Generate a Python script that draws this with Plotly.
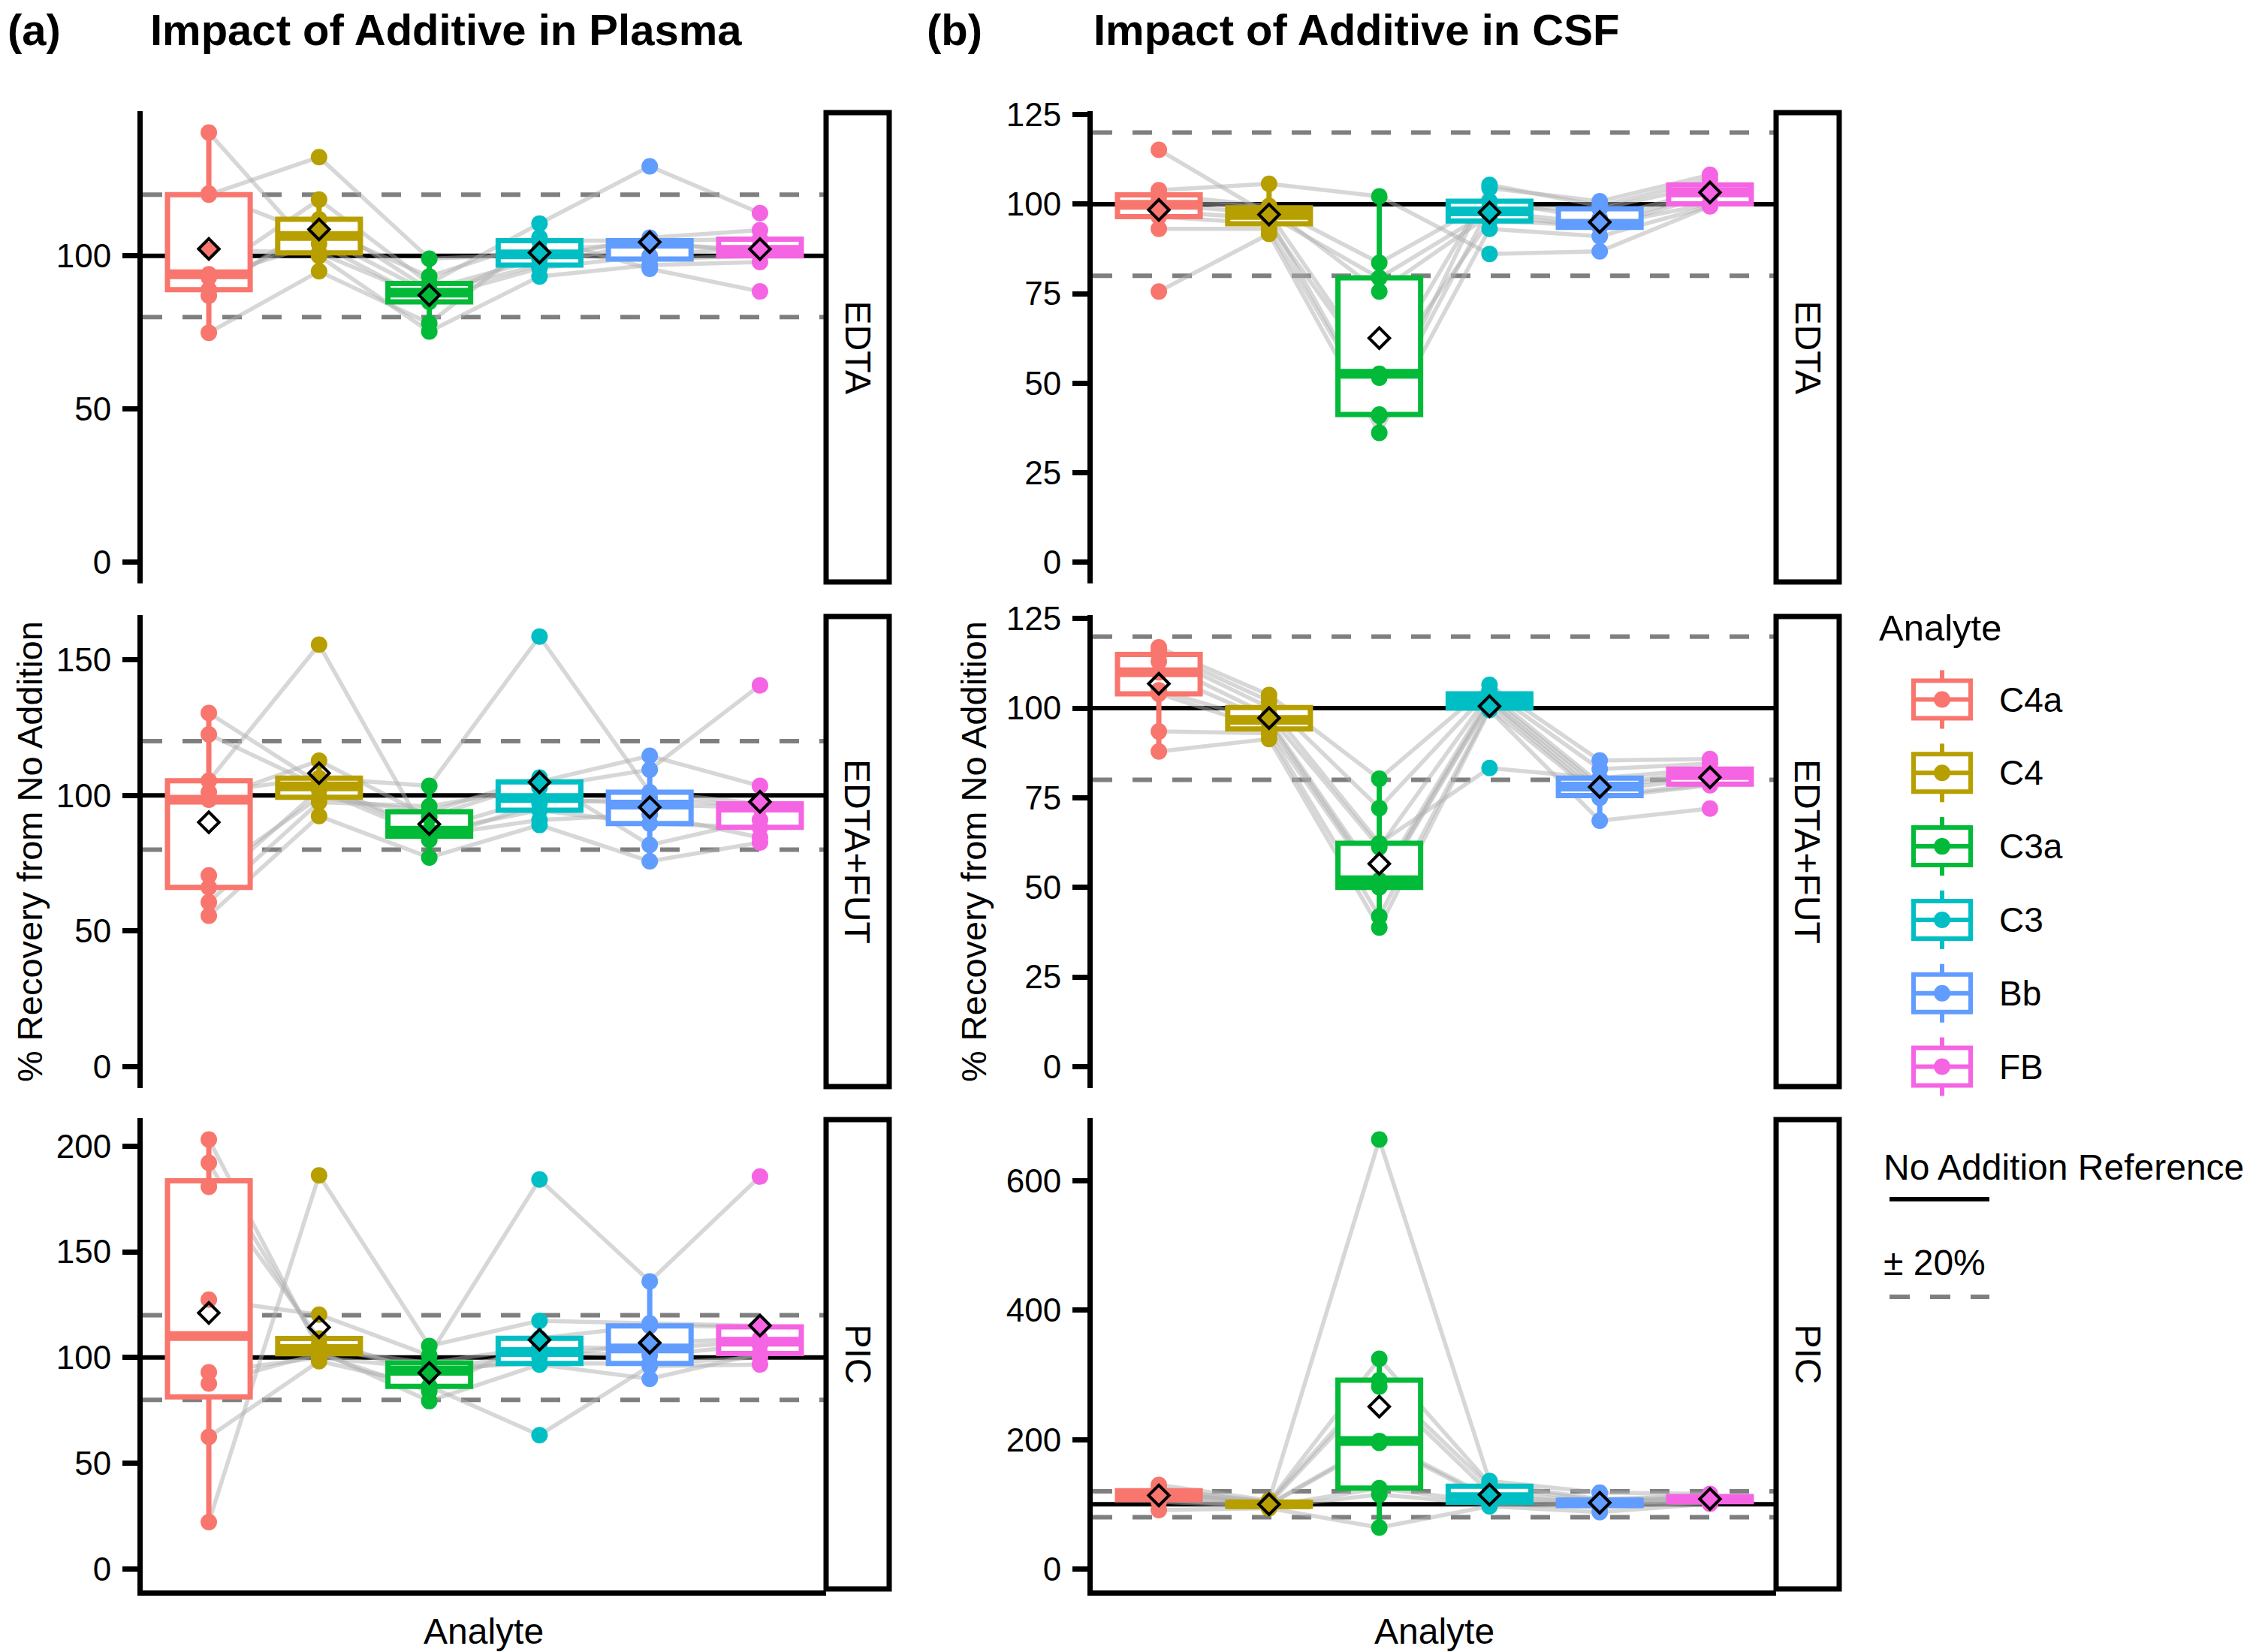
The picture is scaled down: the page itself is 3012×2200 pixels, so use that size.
import numpy as np
import plotly.graph_objects as go

W, H = 3012, 2200

analytes = ["C4a", "C4", "C3a", "C3", "Bb", "FB"]
colors = ["#F8766D", "#B79F00", "#00BA38", "#00BFC4", "#619CFF", "#F564E3"]
additives = ["EDTA", "EDTA+FUT", "PIC"]
matrices = ["Plasma", "CSF"]

# % recovery from no addition; entry i of every list of a panel = the same sample
# ---- Plasma, EDTA
plasma_edta_c4a = [140.3, 120.4, 120.0, 102.0, 94.0, 93.0, 89.0, 87.0, 74.9]
plasma_edta_c4 = [100.0, 106.5, 132.3, 101.0, 118.4, 104.0, 109.0, 112.0, 95.0]
plasma_edta_c3a = [75.3, 88.0, 99.1, 86.0, 91.0, 85.0, 93.3, 89.0, 78.0]
plasma_edta_c3 = [93.3, 97.0, 100.5, 96.0, 110.6, 102.0, 105.0, 99.0, 106.0]
plasma_edta_bb = [97.0, 104.5, 99.0, 100.0, 129.3, 104.0, 105.0, 106.0, 95.8]
plasma_edta_fb = [98.0, 101.0, 100.0, 103.0, 114.0, 102.0, 105.5, 108.4, 88.4]
# ---- Plasma, EDTA+FUT
plasma_fut_c4a = [130.4, 122.5, 105.4, 101.2, 98.4, 70.5, 66.1, 60.6, 55.6]
plasma_fut_c4 = [104.5, 103.3, 155.6, 106.4, 112.8, 99.3, 102.0, 97.5, 92.4]
plasma_fut_c3a = [87.0, 86.5, 83.6, 103.5, 92.0, 94.0, 85.0, 96.0, 77.1]
plasma_fut_c3 = [99.0, 94.5, 97.0, 158.6, 105.0, 106.6, 90.9, 103.0, 89.1]
plasma_fut_bb = [96.6, 89.6, 99.0, 101.2, 114.6, 81.7, 93.0, 109.5, 75.7]
plasma_fut_fb = [95.5, 88.2, 96.0, 96.9, 103.5, 91.0, 84.5, 140.6, 82.6]
# ---- Plasma, PIC
plasma_pic_c4a = [203.1, 192.1, 180.8, 127.4, 93.0, 87.7, 62.5, 22.2, None]
plasma_pic_c4 = [104.0, 106.0, 109.0, 120.3, 100.0, 101.8, 98.3, 186.2, 103.0]
plasma_pic_c3a = [97.5, 93.7, 92.0, 101.0, 95.0, 84.0, 86.4, 105.5, 79.4]
plasma_pic_c3 = [105.0, 102.6, 100.0, 184.2, 97.2, 109.1, 63.3, 117.4, 96.7]
plasma_pic_bb = [104.3, 101.0, 107.0, 136.0, 97.2, 115.0, 96.0, 116.2, 89.9]
plasma_pic_fb = [107.5, 106.0, 109.0, 185.6, 100.0, 114.5, 96.7, 115.0, 101.9]
# ---- CSF, EDTA
csf_edta_c4a = [115.2, 103.9, 102.6, 101.0, 99.8, 98.0, 96.5, 93.1, 75.6]
csf_edta_c4 = [97.0, 105.7, 99.5, 99.0, 97.5, 96.0, 94.5, 93.1, 91.7]
csf_edta_c3a = [79.4, 102.2, 83.6, 75.6, 52.6, 41.2, 51.5, 40.9, 36.1]
csf_edta_c3 = [98.0, 86.1, 100.8, 97.0, 104.5, 105.4, 95.3, 99.0, 93.1]
csf_edta_bb = [94.5, 86.8, 96.0, 93.5, 100.8, 99.5, 94.0, 98.7, 91.0]
csf_edta_fb = [103.3, 99.4, 104.0, 102.5, 108.2, 107.0, 100.1, 105.4, 99.5]
# ---- CSF, EDTA+FUT
csf_fut_c4a = [117.0, 116.0, 115.0, 113.0, 110.0, 105.0, 104.0, 93.5, 87.9]
csf_fut_c4 = [103.7, 102.0, 100.2, 98.0, 96.7, 96.0, 94.2, 93.0, 91.4]
csf_fut_c3a = [80.3, 72.1, 62.3, 61.2, 52.0, 50.7, 50.0, 41.9, 38.8]
csf_fut_c3 = [106.5, 105.0, 83.3, 104.0, 103.0, 102.0, 101.5, 100.0, 99.5]
csf_fut_bb = [85.4, 83.0, 80.5, 79.0, 78.1, 77.0, 75.6, 75.0, 68.6]
csf_fut_fb = [85.8, 84.5, 83.0, 82.0, 81.3, 80.5, 78.8, 78.5, 72.0]
# ---- CSF, PIC
csf_pic_c4a = [130.0, 123.0, 121.0, 119.0, 116.0, 113.0, 107.0, 104.0, 91.0]
csf_pic_c4 = [106.0, 104.0, 103.0, 101.0, 100.0, 99.0, 97.0, 96.0, 94.0]
csf_pic_c3a = [664.0, 325.0, 292.0, 282.0, 198.0, 195.0, 125.0, 115.0, 64.0]
csf_pic_c3 = [136.0, 132.0, 128.0, 118.0, 111.0, 108.0, 103.0, 100.0, 97.0]
csf_pic_bb = [118.0, 108.0, 106.0, 104.0, 103.0, 101.0, 98.0, 96.0, 88.0]
csf_pic_fb = [116.0, 114.0, 112.0, 110.0, 108.0, 106.0, 104.0, 103.0, 101.0]

# y tick values per panel
plasma_edta_ticks = [0, 50, 100]
plasma_fut_ticks = [0, 50, 100, 150]
plasma_pic_ticks = [0, 50, 100, 150, 200]
csf_edta_ticks = [0, 25, 50, 75, 100, 125]
csf_fut_ticks = [0, 25, 50, 75, 100, 125]
csf_pic_ticks = [0, 200, 400, 600]

reference_line = 100
band_lines = [80, 120]

panels = {
    ("Plasma", "EDTA"): ([plasma_edta_c4a, plasma_edta_c4, plasma_edta_c3a, plasma_edta_c3, plasma_edta_bb, plasma_edta_fb], plasma_edta_ticks),
    ("Plasma", "EDTA+FUT"): ([plasma_fut_c4a, plasma_fut_c4, plasma_fut_c3a, plasma_fut_c3, plasma_fut_bb, plasma_fut_fb], plasma_fut_ticks),
    ("Plasma", "PIC"): ([plasma_pic_c4a, plasma_pic_c4, plasma_pic_c3a, plasma_pic_c3, plasma_pic_bb, plasma_pic_fb], plasma_pic_ticks),
    ("CSF", "EDTA"): ([csf_edta_c4a, csf_edta_c4, csf_edta_c3a, csf_edta_c3, csf_edta_bb, csf_edta_fb], csf_edta_ticks),
    ("CSF", "EDTA+FUT"): ([csf_fut_c4a, csf_fut_c4, csf_fut_c3a, csf_fut_c3, csf_fut_bb, csf_fut_fb], csf_fut_ticks),
    ("CSF", "PIC"): ([csf_pic_c4a, csf_pic_c4, csf_pic_c3a, csf_pic_c3, csf_pic_bb, csf_pic_fb], csf_pic_ticks),
}

FONT = "Liberation Sans, Arial, Helvetica, sans-serif"


def fx(x):
    return x / W


def fy(y):
    return 1 - y / H


def box_stats(v):
    """ggplot2-style boxplot statistics (R type-7 quantiles, 1.5*IQR whiskers)."""
    q1, med, q3 = np.percentile(v, [25, 50, 75])
    iqr = q3 - q1
    lf = v[v >= q1 - 1.5 * iqr].min()
    uf = v[v <= q3 + 1.5 * iqr].max()
    return float(q1), float(med), float(q3), float(lf), float(uf)


col_px = [(182, 1092), (1447, 2357)]
row_px = [(140, 769), (811, 1441), (1481, 2110)]
strip_px = [(1092, 1176), (2357, 2441)]
BOX_W = 0.75
LW = 7      # box / axis line width
HLW = 6     # reference line width

fig = go.Figure()
shapes = []
annotations = []
layout_axes = {}

for r, add in enumerate(additives):
    for c, mat in enumerate(matrices):
        k = r * 2 + c + 1
        xref = "x" if k == 1 else f"x{k}"
        yref = "y" if k == 1 else f"y{k}"
        vals, ticks = panels[(mat, add)]
        data = np.array(vals, dtype=float)  # analytes x samples
        n_s = data.shape[1]

        lo = min(0.0, np.nanmin(data), min(band_lines))
        hi = max(np.nanmax(data), max(band_lines))
        span = hi - lo
        yrange = [lo - 0.05 * span, hi + 0.05 * span]

        # reference lines (drawn below everything)
        shapes.append(dict(type="line", xref=f"{xref} domain", yref=yref, x0=0, x1=1,
                           y0=reference_line, y1=reference_line, layer="below",
                           line=dict(color="black", width=HLW)))
        for b in band_lines:
            shapes.append(dict(type="line", xref=f"{xref} domain", yref=yref, x0=0, x1=1,
                               y0=b, y1=b, layer="below",
                               line=dict(color="#7f7f7f", width=HLW, dash="26px,27px")))
        # sample connecting lines
        for s in range(n_s):
            pts = [(j, data[j, s]) for j in range(len(analytes)) if not np.isnan(data[j, s])]
            path = "M " + " L ".join(f"{x},{y}" for x, y in pts)
            shapes.append(dict(type="path", xref=xref, yref=yref, path=path, layer="below",
                               line=dict(color="rgba(175,175,175,0.5)", width=5.5)))

        # boxes (statistics computed like ggplot2)
        meds = []
        for j, a in enumerate(analytes):
            v = data[j][~np.isnan(data[j])]
            q1, med, q3, lf, uf = box_stats(v)
            meds.append(med)
            fig.add_trace(go.Box(
                x=[j], q1=[q1], median=[med], q3=[q3], lowerfence=[lf], upperfence=[uf],
                width=BOX_W, fillcolor="white", boxpoints=False,
                line=dict(color=colors[j], width=LW), whiskerwidth=0,
                xaxis=xref, yaxis=yref, showlegend=False, hoverinfo="skip"))
        # thick median (ggplot fatten = 2)
        for j, a in enumerate(analytes):
            fig.add_trace(go.Scatter(
                x=[j - BOX_W / 2, j + BOX_W / 2], y=[meds[j], meds[j]], mode="lines",
                line=dict(color=colors[j], width=2 * LW - 1), xaxis=xref, yaxis=yref,
                showlegend=False, hoverinfo="skip"))
        # points
        px_, py_, pc_ = [], [], []
        for j in range(len(analytes)):
            for s in range(n_s):
                if not np.isnan(data[j, s]):
                    px_.append(j)
                    py_.append(data[j, s])
                    pc_.append(colors[j])
        fig.add_trace(go.Scatter(
            x=px_, y=py_, mode="markers", marker=dict(size=22, color=pc_, line=dict(width=0)),
            xaxis=xref, yaxis=yref, showlegend=False, hoverinfo="skip"))
        # means
        fig.add_trace(go.Scatter(
            x=list(range(len(analytes))), y=list(np.nanmean(data, axis=1)), mode="markers",
            marker=dict(symbol="diamond-open", size=21, color="black", line=dict(width=4)),
            xaxis=xref, yaxis=yref, showlegend=False, hoverinfo="skip"))

        x0, x1 = col_px[c]
        y0, y1 = row_px[r]
        layout_axes[f"xaxis{k}"] = dict(
            domain=[fx(x0), fx(x1)], range=[-0.6, len(analytes) - 0.4], anchor=yref,
            showticklabels=False, ticks="", showgrid=False, zeroline=False,
            showline=(r == 2), linewidth=LW, linecolor="black", automargin=False)
        layout_axes[f"yaxis{k}"] = dict(
            domain=[fy(y1), fy(y0)], range=yrange, anchor=xref, tickmode="array",
            tickvals=ticks, ticktext=[str(t) for t in ticks], ticks="outside", ticklen=20,
            tickwidth=LW, tickcolor="black", showline=True, linewidth=LW, linecolor="black",
            showgrid=False, zeroline=False, tickfont=dict(size=44, color="black", family=FONT),
            ticklabelstandoff=6, automargin=False)

        # facet strip
        sx0, sx1 = strip_px[c]
        shapes.append(dict(type="rect", xref="paper", yref="paper", x0=fx(sx0), x1=fx(sx1),
                           y0=fy(y1 - 2), y1=fy(y0 + 2), fillcolor="white",
                           line=dict(color="black", width=LW), layer="above"))
        annotations.append(dict(text=add, xref="paper", yref="paper", x=fx((sx0 + sx1) / 2),
                                y=fy((y0 + y1) / 2), showarrow=False, textangle=90,
                                font=dict(size=48, color="black", family=FONT),
                                xanchor="center", yanchor="middle"))

# titles
for lab, title, xl, xt in [("(a)", "Impact of Additive in Plasma", 0, 190),
                           ("(b)", "Impact of Additive in CSF", 1224, 1446)]:
    annotations.append(dict(text=f"<b>{lab}</b>", xref="paper", yref="paper", x=fx(xl), y=fy(32),
                            xanchor="left", yanchor="middle", showarrow=False,
                            font=dict(size=58, color="black", family=FONT)))
    annotations.append(dict(text=f"<b>{title}</b>", xref="paper", yref="paper", x=fx(xt), y=fy(32),
                            xanchor="left", yanchor="middle", showarrow=False,
                            font=dict(size=58, color="black", family=FONT)))

# axis titles
for xc in [31, 1288]:
    annotations.append(dict(text="% Recovery from No Addition", xref="paper", yref="paper",
                            x=fx(xc), y=fy(1126), textangle=-90, showarrow=False,
                            xanchor="center", yanchor="middle",
                            font=dict(size=47, color="black", family=FONT)))
for xc in [636, 1902]:
    annotations.append(dict(text="Analyte", xref="paper", yref="paper", x=fx(xc), y=fy(2164),
                            showarrow=False, xanchor="center", yanchor="middle",
                            font=dict(size=48, color="black", family=FONT)))

# legend (Analyte)
annotations.append(dict(text="Analyte", xref="paper", yref="paper", x=fx(2492), y=fy(828),
                        xanchor="left", yanchor="middle", showarrow=False,
                        font=dict(size=49, color="black", family=FONT)))
leg_x, leg_y0, leg_step = 2578, 923.5, 97.8
for j, a in enumerate(analytes):
    cy = leg_y0 + j * leg_step
    col = colors[j]
    shapes.append(dict(type="line", xref="paper", yref="paper", x0=fx(leg_x), x1=fx(leg_x),
                       y0=fy(cy - 39), y1=fy(cy + 39), line=dict(color=col, width=HLW)))
    shapes.append(dict(type="rect", xref="paper", yref="paper", x0=fx(leg_x - 38), x1=fx(leg_x + 38),
                       y0=fy(cy + 25), y1=fy(cy - 25), fillcolor="white",
                       line=dict(color=col, width=HLW)))
    shapes.append(dict(type="line", xref="paper", yref="paper", x0=fx(leg_x - 38), x1=fx(leg_x + 38),
                       y0=fy(cy), y1=fy(cy), line=dict(color=col, width=HLW)))
    shapes.append(dict(type="circle", xref="paper", yref="paper", x0=fx(leg_x - 11), x1=fx(leg_x + 11),
                       y0=fy(cy + 11), y1=fy(cy - 11), fillcolor=col, line=dict(color=col, width=0)))
    annotations.append(dict(text=a, xref="paper", yref="paper", x=fx(2652), y=fy(cy),
                            xanchor="left", yanchor="middle", showarrow=False,
                            font=dict(size=46, color="black", family=FONT)))

# legend (reference lines)
annotations.append(dict(text="No Addition Reference", xref="paper", yref="paper", x=fx(2498), y=fy(1546),
                        xanchor="left", yanchor="middle", showarrow=False,
                        font=dict(size=48, color="black", family=FONT)))
shapes.append(dict(type="line", xref="paper", yref="paper", x0=fx(2508), x1=fx(2641),
                   y0=fy(1589), y1=fy(1589), line=dict(color="black", width=HLW)))
annotations.append(dict(text="± 20%", xref="paper", yref="paper", x=fx(2498), y=fy(1673),
                        xanchor="left", yanchor="middle", showarrow=False,
                        font=dict(size=48, color="black", family=FONT)))
shapes.append(dict(type="line", xref="paper", yref="paper", x0=fx(2508), x1=fx(2641),
                   y0=fy(1719), y1=fy(1719), line=dict(color="#7f7f7f", width=HLW, dash="27px,27px")))

fig.update_layout(
    width=W, height=H, margin=dict(l=0, r=0, t=0, b=0, autoexpand=False),
    paper_bgcolor="white", plot_bgcolor="rgba(0,0,0,0)", template="none",
    font=dict(family=FONT, color="black"), showlegend=False, hovermode=False,
    shapes=shapes, annotations=annotations, boxmode="overlay", **layout_axes)

fig.write_html("out.html")
